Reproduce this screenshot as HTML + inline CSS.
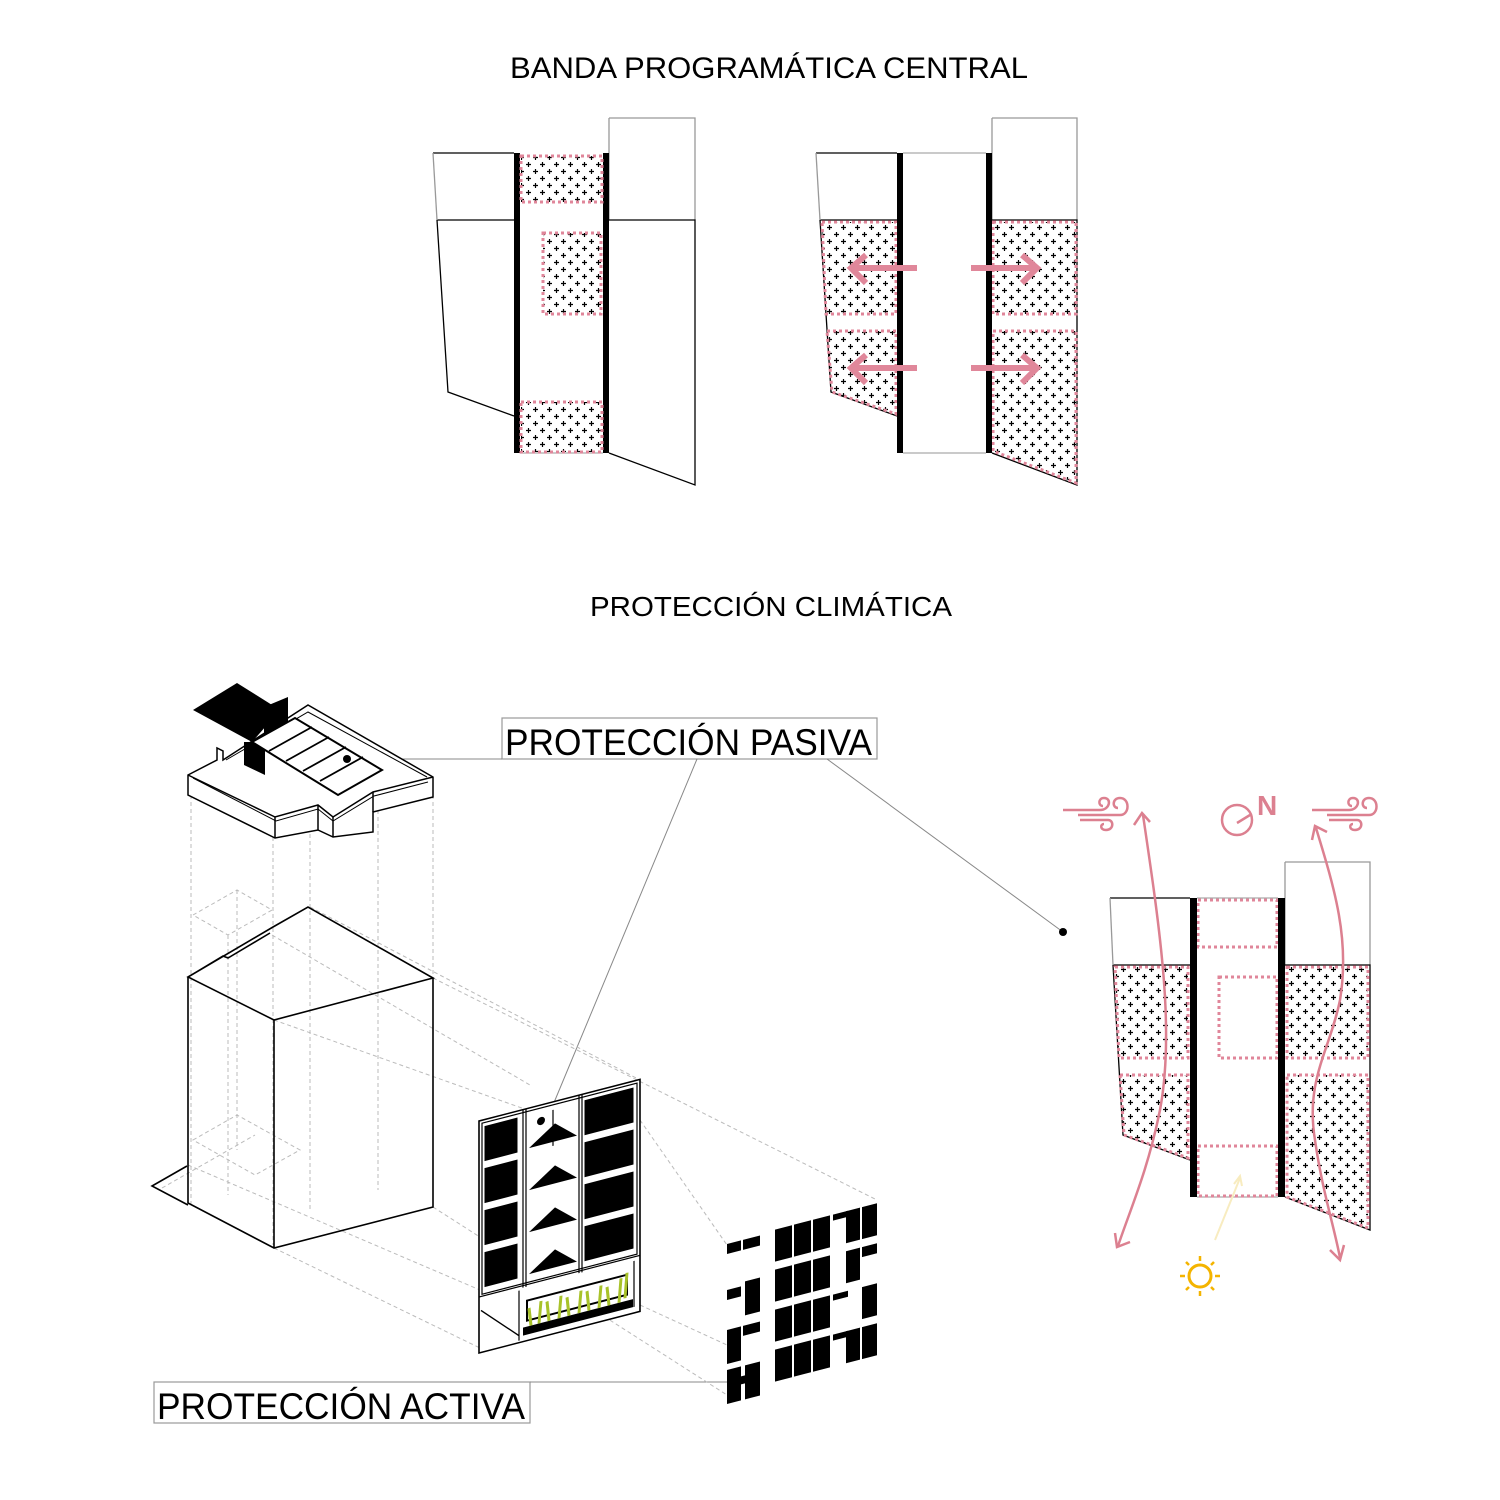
<!DOCTYPE html>
<html><head><meta charset="utf-8"><style>html,body{margin:0;padding:0;background:#fff}svg{display:block}</style></head>
<body>
<svg width="1500" height="1500" viewBox="0 0 1500 1500" xmlns="http://www.w3.org/2000/svg" font-family="Liberation Sans, sans-serif">
<defs>
<pattern id="hp" width="14" height="14" patternUnits="userSpaceOnUse">
<path d="M1,3.5h5M3.5,1v5M8,10.5h5M10.5,8v5" stroke="#000" stroke-width="1.2"/>
</pattern>
</defs>
<rect width="1500" height="1500" fill="#fff"/>
<text x="510" y="78" font-size="30" textLength="518" lengthAdjust="spacingAndGlyphs">BANDA PROGRAMÁTICA CENTRAL</text>
<text x="590" y="616" font-size="28" textLength="362" lengthAdjust="spacingAndGlyphs">PROTECCIÓN CLIMÁTICA</text>

<!-- TOP LEFT -->
<g fill="none" stroke="#000" stroke-width="1.3">
<path d="M433,153H514M437,220H514M437,220L448,392L514,416" />
<path d="M433,153L437,220" stroke="#999"/>
<path d="M609,118H695V220M609,118V220" stroke="#999"/>
<path d="M609,220H695V485L609,453"/>
<path d="M520,453H603" stroke="#aaa"/>
</g>
<rect x="514" y="153" width="6" height="300" fill="#000"/>
<rect x="603" y="153" width="6" height="300" fill="#000"/>
<g fill="url(#hp)" stroke="#e0869a" stroke-width="3" stroke-dasharray="3,3">
<rect x="521" y="156" width="81" height="46"/>
<rect x="543" y="233" width="58" height="81"/>
<rect x="521" y="402" width="81" height="50"/>
</g>

<!-- TOP RIGHT -->
<g fill="none" stroke="#000" stroke-width="1.3">
<path d="M816,153H897M820,220H897"/>
<path d="M816,153L820,220" stroke="#999"/>
<path d="M992,118H1077V220M992,118V220" stroke="#999"/>
<path d="M903,153H986M903,453H986" stroke="#aaa"/>
<path d="M820,220L831,392L897,416"/>
<path d="M992,220H1077V485L992,453"/>
</g>
<g fill="url(#hp)" stroke="#e0869a" stroke-width="3" stroke-dasharray="3,3">
<path d="M822,222H896V314H826Z"/>
<path d="M827,331H896V414L832,392Z"/>
<rect x="993" y="222" width="83" height="92"/>
<path d="M993,331H1076V483L993,451Z"/>
</g>
<rect x="897" y="153" width="6" height="300" fill="#000"/>
<rect x="986" y="153" width="6" height="300" fill="#000"/>
<g stroke="#e0879a" stroke-width="6" fill="none">
<path d="M917,268H852M866,255L851,268L866,283"/>
<path d="M917,368H852M866,355L851,368L866,383"/>
<path d="M971,268H1036M1022,255L1037,268L1022,283"/>
<path d="M971,368H1036M1022,355L1037,368L1022,383"/>
</g>

<!-- LABELS -->
<rect x="502" y="718" width="375" height="41" fill="none" stroke="#999" stroke-width="1.2"/>
<text x="505" y="755" font-size="37" textLength="367" lengthAdjust="spacingAndGlyphs">PROTECCIÓN PASIVA</text>
<rect x="154" y="1382" width="376" height="41" fill="none" stroke="#999" stroke-width="1.2"/>
<text x="157" y="1419" font-size="37" textLength="368" lengthAdjust="spacingAndGlyphs">PROTECCIÓN ACTIVA</text>
<g stroke="#888" stroke-width="1" fill="none">
<path d="M395,759H502"/>
<path d="M697,759L548,1117"/>
<path d="M827,759L1063,932"/>
<path d="M530,1382H727"/>
</g>
<circle cx="1063" cy="932" r="4" fill="#000"/>

<!-- DASHED CONSTRUCTION LINES -->
<g stroke="#bbb" stroke-width="1" stroke-dasharray="4,3" fill="none">
<path d="M191,795V1205M273,830V1245M310,820V1210M378,810V1190M433,795V978"/>
<path d="M193,915L237,890L272,910L228,935ZM237,890V1150M228,935V1195"/>
<path d="M193,1140L237,1115L300,1150L255,1175ZM162,1188L255,1135"/>
<path d="M433,978L877,1200M433,1207L727,1395M274,1020L640,1150M188,1165L480,1290"/>
<path d="M310,907L640,1080M272,935L530,1085M274,1248L480,1348"/>
<path d="M640,1120L727,1245M640,1305L727,1345"/>
</g>

<!-- BUILDING -->
<g fill="none" stroke="#000" stroke-width="1.6">
<path d="M188,977L223,956L228,958L270,933M273,927L308,907L433,978L274,1020L188,977Z"/>
<path d="M188,977V1203L274,1248L433,1207V978M274,1020V1248"/>
<path d="M187,1166L152,1186L188,1205"/>
</g>

<!-- ROOF -->
<g fill="#fff" stroke="#000" stroke-width="1.5">
<path d="M188,775L217,760L217,748L223,751V760L308,705L433,777V797L373,812V832L333,837L318,830L275,838L188,795Z"/>
<path d="M188,775L275,817L318,805L333,817L373,792L433,777" fill="none"/>
<path d="M193,778L276,821L318,809L333,821L374,796L428,782" fill="none" stroke-width="1"/>
<path d="M275,817V838M318,805V830M333,817V837M373,792V812" fill="none"/>
<path d="M226,760L308,712L427,777" fill="none" stroke-width="1"/>
</g>
<path d="M193,710L237,683L280,710L252,742Z" fill="#000"/>
<path d="M244,742H265V775L244,765Z" fill="#000"/>
<path d="M264,707L288,697V722L264,735Z" fill="#000"/>
<path d="M252,742L295,718L382,770L338,795Z" fill="#fff" stroke="#000" stroke-width="2"/>
<g stroke="#000" stroke-width="1.8"><path d="M269,751L312,727M286,761L329,737M303,771L346,747M320,781L363,757"/></g>
<circle cx="347" cy="759" r="4" fill="#000"/>

<!-- FACADE -->
<g transform="translate(479,1121) skewY(-14.5)">
<rect x="0" y="0" width="161" height="232" fill="#fff" stroke="#000" stroke-width="1.6"/>
<g fill="#000" stroke="#fff" stroke-width="1">
<rect x="5" y="6" width="34" height="36"/><rect x="5" y="48" width="34" height="36"/><rect x="5" y="90" width="34" height="36"/><rect x="5" y="132" width="34" height="36"/>
<rect x="105" y="6" width="50" height="36"/><rect x="105" y="48" width="50" height="36"/><rect x="105" y="90" width="50" height="36"/><rect x="105" y="132" width="50" height="36"/>
</g>
<g fill="none" stroke="#000" stroke-width="1.2">
<path d="M44,0V178M47,0V178M100,0V178M103,0V178M0,176H161M74,8V44"/>
<path d="M3,3H158V174H3Z"/>
</g>
<g fill="#000">
<path d="M50,40L76,22L98,40Z"/><path d="M50,82L76,64L98,82Z"/><path d="M50,124L76,106L98,124Z"/><path d="M50,166L76,148L98,166Z"/>
<rect x="44" y="218" width="110" height="8"/>
</g>
<path d="M2,190L40,225M40,180V230M155,180V226" stroke="#000" stroke-width="1.2" fill="none"/>
<rect x="48" y="192" width="100" height="20" fill="none" stroke="#000" stroke-width="2"/>
<g stroke="#a8c22a" stroke-width="3">
<path d="M52,218L50,200M60,218L62,196M70,218L68,198M80,218L82,196M90,218L88,199M100,218L102,196M110,218L108,198M120,218L122,196M130,218L128,199M140,218L142,194M146,215L148,190"/>
</g>
<circle cx="62" cy="16" r="4" fill="#000"/>
</g>

<!-- SOLAR PANELS -->
<g transform="translate(727,1242) skewY(-14.5)" fill="#000">
<rect x="0" y="2" width="14" height="10"/><rect x="16" y="2" width="17" height="10"/>
<rect x="48" y="0" width="17" height="32"/><rect x="67" y="0" width="17" height="32"/><rect x="86" y="0" width="17" height="32"/><rect x="106" y="0" width="15" height="6"/><rect x="119" y="0" width="14" height="32"/><rect x="135" y="0" width="15" height="32"/>
<rect x="0" y="48" width="14" height="10"/><rect x="18" y="44" width="15" height="34"/>
<rect x="48" y="40" width="17" height="32"/><rect x="67" y="40" width="17" height="32"/><rect x="86" y="40" width="17" height="32"/><rect x="119" y="40" width="14" height="32"/><rect x="135" y="40" width="15" height="10"/>
<rect x="0" y="88" width="14" height="34"/><rect x="16" y="88" width="17" height="10"/>
<rect x="48" y="80" width="17" height="32"/><rect x="67" y="80" width="17" height="32"/><rect x="86" y="80" width="17" height="32"/><rect x="106" y="80" width="15" height="6"/><rect x="135" y="80" width="15" height="32"/>
<rect x="0" y="128" width="14" height="34"/><rect x="14" y="138" width="4" height="8"/><rect x="18" y="128" width="15" height="34"/>
<rect x="48" y="120" width="17" height="32"/><rect x="67" y="120" width="17" height="32"/><rect x="86" y="120" width="17" height="32"/><rect x="106" y="120" width="15" height="6"/><rect x="119" y="120" width="14" height="32"/><rect x="135" y="120" width="15" height="32"/>
</g>

<!-- BOTTOM RIGHT PLAN -->
<g fill="none" stroke="#000" stroke-width="1.3">
<path d="M1110,898H1190M1113,965H1190"/>
<path d="M1110,898L1113,965" stroke="#999"/>
<path d="M1285,862H1370V965M1285,862V965" stroke="#999"/>
<path d="M1197,898H1278M1197,1197H1278" stroke="#aaa"/>
<path d="M1113,965L1123,1135L1190,1160"/>
<path d="M1285,965H1370V1230L1285,1197"/>
</g>
<g fill="url(#hp)" stroke="#e0869a" stroke-width="3" stroke-dasharray="3,3">
<path d="M1115,967H1188V1058H1119Z"/>
<path d="M1120,1075H1188V1158L1124,1135Z"/>
<rect x="1287" y="967" width="81" height="91"/>
<path d="M1287,1075H1368V1228L1287,1197Z"/>
</g>
<g fill="none" stroke="#e0869a" stroke-width="3" stroke-dasharray="3,3">
<rect x="1198" y="900" width="79" height="47"/>
<rect x="1219" y="977" width="58" height="81"/>
<rect x="1198" y="1146" width="79" height="50"/>
</g>
<rect x="1190" y="898" width="7" height="299" fill="#000"/>
<rect x="1278" y="898" width="7" height="299" fill="#000"/>
<g fill="none" stroke="#dc8090" stroke-width="2.5">
<path d="M1143,815C1160,930 1175,1030 1160,1110C1148,1170 1130,1210 1118,1246"/>
<path d="M1134,825L1142,813L1150,822M1115,1233L1117,1247L1130,1242"/>
<path d="M1316,828C1335,890 1350,940 1340,1000C1330,1050 1305,1080 1315,1140C1322,1190 1335,1230 1340,1258"/>
<path d="M1312,840L1315,826L1327,832M1330,1250L1340,1260L1344,1245"/>
<path d="M1063,810H1100C1110,810 1112,798 1104,798C1098,798 1098,806 1103,806M1078,815H1120C1130,815 1130,798 1120,798C1112,798 1112,808 1118,808M1080,820H1108C1114,820 1114,830 1106,830C1100,830 1100,824 1104,824"/>
<path d="M1312,810H1349C1359,810 1361,798 1353,798C1347,798 1347,806 1352,806M1327,815H1369C1379,815 1379,798 1369,798C1361,798 1361,808 1367,808M1329,820H1357C1363,820 1363,830 1355,830C1349,830 1349,824 1353,824"/>
<circle cx="1237" cy="820" r="15"/>
<path d="M1237,823L1250,815"/>
</g>
<text x="1257" y="815" font-size="28" font-weight="bold" fill="#dc8090">N</text>
<path d="M1215,1240L1240,1178M1234,1184L1240,1176L1242,1186" stroke="#f8ecc0" stroke-width="2" fill="none"/>
<circle cx="1200" cy="1276" r="11" fill="none" stroke="#f4b400" stroke-width="3"/>
<g stroke="#f4b400" stroke-width="2.5">
<path d="M1200,1256v5M1200,1291v5M1180,1276h5M1215,1276h5M1186,1262l3,3M1211,1287l3,3M1214,1262l-3,3M1189,1287l-3,3"/>
</g>
</svg>
</body></html>
